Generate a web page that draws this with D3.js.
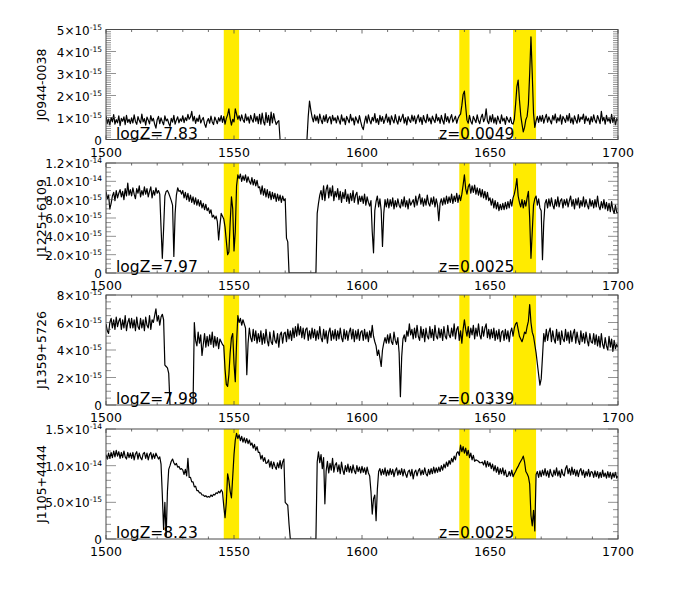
<!DOCTYPE html>
<html>
<head>
<meta charset="utf-8">
<script src="https://cdn.jsdelivr.net/npm/d3@7"></script>
<style>
  body { margin: 0; background: #fff; }
  svg { font-family: "DejaVu Sans", "Liberation Sans", Arial, sans-serif; }
</style>
</head>
<body>
<svg id="spectra" width="692" height="609"></svg>
<script>
// wavelength grid (angstrom) shared by all spectra
const waveStart = 1500;
const waveStep = 0.5;

const galaxyNames = ["J0944-0038", "J1225+6109", "J1359+5726", "J1105+4444"];
const logZLabels = ["7.83", "7.97", "7.98", "8.23"];
const redshiftLabels = ["0.0049", "0.0025", "0.0339", "0.0025"];

// highlighted lines: CIV, HeII, OIII]
const bandStarts = [1546, 1638, 1659];
const bandEnds = [1552, 1642, 1668];

const xTicks = [1500, 1550, 1600, 1650, 1700];

// flux in units of 1e-15 erg/s/cm2/A, one row = 10 A
const flux1 = [
  1.06,0.73,0.93,0.66,1.00,0.80,1.13,0.70,0.90,0.76,1.08,0.63,0.96,0.83,1.03,0.68,1.10,0.78,0.92,0.72,
  0.98,0.75,1.12,0.82,0.69,1.04,0.86,0.74,1.15,0.80,0.95,0.65,1.02,0.88,0.71,1.09,0.84,0.96,0.70,0.52,
  0.90,1.05,0.72,0.98,0.81,0.67,1.07,0.85,0.93,0.74,0.60,0.96,0.79,1.10,0.70,0.88,1.03,0.76,0.94,0.83,
  1.08,0.77,0.99,0.86,1.14,0.92,1.02,1.28,0.84,1.05,0.73,0.97,0.82,1.11,0.75,0.90,1.00,0.71,0.55,0.83,
  0.95,0.74,1.06,0.80,0.68,1.02,0.87,0.72,0.99,0.83,1.09,0.78,1.05,0.70,0.96,1.12,1.39,0.95,0.65,0.92,
  0.80,1.39,1.15,0.92,1.08,0.85,1.12,0.90,0.78,1.16,0.86,1.03,0.74,1.10,0.91,0.79,1.18,0.83,1.05,0.72,
  1.14,0.70,1.20,0.82,0.66,1.22,0.78,1.10,0.64,1.25,0.75,1.18,0.88,0.68,0.80,0.86,0,0,0,0,
  0,0,0,0,0,0,0,0,0,0,0,0,0,0,0,0,0,0,1.05,1.75,
  1.35,1.02,0.80,1.12,0.85,1.06,0.74,1.15,0.90,0.72,1.08,0.82,1.13,0.77,0.96,1.04,0.71,1.10,0.86,0.99,
  0.75,1.07,0.88,0.70,1.12,0.83,0.97,0.68,1.05,0.91,0.76,1.14,0.85,0.98,0.66,1.03,0.89,0.74,1.09,0.81,
  0.58,0.45,0.80,1.06,0.74,1.12,0.87,0.71,1.01,0.84,1.18,0.77,0.95,0.69,1.10,0.82,1.04,0.73,0.92,1.15,
  0.79,1.02,0.68,1.08,0.90,0.75,1.13,0.85,0.70,1.06,0.81,0.97,1.15,0.74,0.99,0.66,1.04,0.88,0.78,1.11,
  0.84,1.07,0.72,0.96,1.12,0.80,1.01,0.69,1.09,0.87,0.76,1.14,0.83,0.98,0.71,1.06,0.90,0.77,1.16,0.85,
  1.00,0.73,1.10,0.86,0.70,1.18,0.82,1.04,0.75,0.97,1.13,0.79,0.92,1.06,0.74,0.95,1.08,1.15,1.55,2.05,
  2.20,1.50,0.88,0.74,1.10,0.83,0.70,1.05,0.91,0.77,1.12,0.86,0.72,1.00,1.15,0.81,0.95,1.39,0.84,0.72,
  1.08,0.80,1.13,0.75,0.99,0.70,1.06,0.88,0.73,1.12,0.84,0.97,0.69,1.04,0.90,0.78,1.01,0.74,0.70,0.92,
  1.60,2.40,2.70,1.80,1.10,0.70,0.35,0.55,0.90,1.05,1.60,3.00,4.67,3.00,1.20,0.55,0.85,1.05,0.78,1.08,
  0.82,1.10,0.74,0.97,1.14,0.79,1.03,0.86,0.71,1.09,0.88,1.16,0.76,0.99,0.84,1.12,0.70,1.05,0.93,0.78,
  1.10,0.84,1.18,0.76,0.98,0.70,1.07,0.89,0.74,1.13,0.80,1.02,0.92,1.15,0.73,1.06,0.85,0.97,0.69,1.04,
  0.80,1.12,0.87,0.75,1.09,0.92,0.72,1.28,0.85,1.01,0.70,1.10,0.83,0.96,0.74,1.14,0.78,1.03,0.68,0.95,
  0.86
];

const flux2 = [
  8.9,8.1,8.5,7.0,7.6,8.4,8.8,7.9,9.0,8.2,8.7,9.1,8.3,8.9,8.0,9.2,8.4,9.8,8.5,9.1,
  8.4,9.3,8.6,8.1,9.2,8.7,9.5,8.3,9.0,8.5,9.4,8.6,9.2,8.3,8.9,9.4,8.2,9.0,8.5,9.3,
  8.7,9.0,8.6,5.0,1.6,4.8,8.4,8.9,9.0,8.7,8.3,7.9,7.4,1.8,6.5,8.5,9.3,8.9,9.0,8.6,
  9.0,8.2,8.8,8.0,8.7,7.8,8.5,7.7,8.3,7.5,8.2,7.4,8.0,7.3,7.9,7.1,7.6,6.9,7.5,6.8,
  7.1,6.5,6.9,6.1,6.3,5.9,6.2,5.6,3.6,5.2,6.5,6.2,5.9,5.0,3.5,2.0,2.3,5.5,8.3,7.0,
  2.4,4.5,9.5,10.7,10.3,10.8,10.0,10.6,10.1,10.7,9.9,10.5,10.0,9.7,10.4,9.6,10.2,9.5,10.1,9.3,
  9.4,8.6,9.5,8.5,9.2,8.3,9.1,8.2,8.9,8.0,8.8,8.1,8.7,7.8,8.6,7.9,8.5,7.7,8.4,7.9,
  8.1,3.8,3.4,0,0,0,0,0,0,0,0,0,0,0,0,0,0,0,0,0,
  0,0,0,0,0,6.5,7.6,8.5,9.0,8.0,9.5,7.9,9.1,9.6,8.2,9.3,8.4,9.5,7.9,8.9,
  8.3,9.2,8.0,8.9,7.7,8.8,8.1,9.1,7.8,8.6,7.6,8.7,7.9,9.0,7.7,8.5,8.8,7.5,8.4,7.8,
  8.4,7.6,8.6,7.4,8.3,7.7,7.3,7.9,4.5,2.2,6.8,7.8,8.4,7.2,8.1,6.8,2.9,6.5,8.0,7.2,
  8.1,7.1,8.0,7.3,8.2,7.0,7.9,7.2,8.1,7.4,7.1,8.0,7.3,8.3,7.2,7.9,7.0,8.1,7.4,7.7,
  8.0,7.2,8.4,7.4,8.1,8.6,7.5,8.2,7.3,8.1,7.4,8.5,7.6,7.3,8.2,7.5,8.3,7.2,8.1,7.4,
  5.7,7.6,8.1,7.4,8.2,7.5,8.4,7.6,8.3,7.7,8.6,7.6,8.4,7.8,8.7,7.7,8.5,7.9,8.6,9.6,
  10.7,9.2,8.6,9.4,9.7,8.7,9.5,8.8,9.6,8.6,9.3,8.5,9.2,8.3,9.1,8.2,8.9,8.0,8.8,7.9,
  8.2,7.4,8.1,7.1,7.9,7.0,7.7,6.8,7.5,6.9,7.6,6.9,7.7,7.0,7.8,7.1,8.0,7.3,8.2,8.6,
  9.3,10.3,8.4,7.7,7.2,8.0,7.1,7.9,7.3,8.2,8.9,6.0,1.6,4.5,7.4,8.1,8.4,7.4,8.1,7.1,
  6.8,1.45,5.5,7.6,8.0,7.1,8.1,7.3,8.2,7.4,7.0,8.0,7.3,8.3,7.2,7.9,8.1,7.1,8.0,7.4,
  8.1,7.2,7.9,8.4,7.3,8.0,7.0,8.1,7.4,8.2,7.1,7.9,7.3,8.3,7.2,8.0,7.4,7.0,8.1,7.3,
  7.9,7.1,8.0,7.2,8.4,7.3,6.9,7.8,7.1,8.0,7.0,7.7,6.8,7.6,6.7,7.8,6.9,6.5,7.4,6.6,
  6.6
];

const flux3 = [
  5.9,5.4,5.2,6.0,6.3,5.6,6.2,5.5,6.4,5.7,6.1,6.3,5.5,6.2,5.6,6.5,5.4,6.0,6.3,5.6,
  6.3,5.6,6.2,5.4,6.4,5.7,5.5,6.3,5.6,6.2,5.4,6.4,5.8,5.6,6.5,5.5,6.2,6.0,6.5,7.0,
  6.1,6.5,5.8,6.4,6.6,6.2,2.9,2.8,2.7,2.3,0,0,0,0,0,0,0,0,0,0,
  0,0,0,0,0,0,0,0,0,6.0,4.7,4.3,5.3,4.5,5.1,3.6,4.4,5.2,4.2,5.0,
  4.3,5.1,4.4,5.3,4.2,5.0,4.3,4.9,4.1,4.8,4.6,4.4,4.3,2.6,1.5,1.35,2.2,3.8,4.9,5.2,
  3.0,1.7,4.5,6.5,6.0,6.3,5.8,6.2,5.9,5.6,2.2,4.5,5.6,4.9,4.6,5.5,4.7,5.4,4.5,5.2,
  4.6,5.4,4.4,5.2,4.5,5.5,4.7,4.3,5.3,4.6,4.4,5.4,4.7,4.5,5.2,4.2,5.1,5.3,4.5,5.2,
  5.3,4.6,5.5,4.8,5.4,4.7,5.6,4.9,5.7,5.0,5.9,5.1,5.7,4.9,5.6,4.8,5.5,5.6,4.7,5.4,
  4.8,5.6,4.9,5.5,4.7,5.4,4.8,5.7,4.9,4.6,5.5,4.8,5.4,4.5,5.3,5.6,4.7,5.4,4.8,5.5,
  4.7,5.4,4.8,5.6,4.9,4.6,5.5,4.8,5.4,4.7,5.3,5.6,4.8,5.5,4.6,5.4,4.8,5.5,4.7,5.3,
  5.4,4.7,5.5,4.8,5.3,4.6,5.4,4.9,5.8,5.0,4.6,4.3,3.6,4.0,3.4,2.8,4.0,4.5,4.9,4.5,
  5.1,4.5,5.2,4.6,4.4,5.3,4.7,4.4,4.9,3.8,0.6,3.5,4.8,5.1,4.6,5.4,5.0,5.9,5.1,5.5,
  4.8,5.6,4.9,5.8,5.0,4.7,5.7,4.9,5.5,4.6,5.6,5.0,4.8,5.7,4.9,5.5,4.7,5.8,5.0,4.8,
  5.6,4.9,5.5,4.7,5.7,5.0,4.8,5.8,5.1,4.9,5.6,5.0,5.9,4.8,5.5,5.7,4.7,5.4,4.5,5.5,
  6.2,5.5,5.0,5.7,4.9,5.6,5.1,5.8,4.8,5.6,5.0,5.9,5.1,4.8,5.7,5.0,5.6,5.9,4.9,5.5,
  4.8,5.5,4.9,5.6,4.7,5.4,4.8,5.5,4.6,5.3,5.4,4.7,5.5,4.8,5.4,4.6,5.3,5.6,5.0,5.6,
  5.9,6.0,5.5,5.0,4.8,4.6,4.9,5.3,5.2,5.7,6.1,7.3,6.0,5.3,5.0,4.4,3.8,3.0,2.2,1.45,
  1.9,3.5,5.2,4.6,5.5,4.7,5.3,5.6,4.6,5.4,4.8,4.5,5.5,4.7,5.3,4.4,5.4,4.8,4.6,5.5,
  4.7,5.3,4.5,5.4,4.6,5.2,5.5,4.5,5.3,4.7,4.4,5.4,4.6,5.2,4.5,5.3,4.7,4.3,5.2,4.6,
  4.5,5.2,4.4,5.1,4.3,5.0,4.2,5.2,4.4,4.1,4.9,4.3,4.0,5.0,4.2,4.8,3.9,4.7,4.1,4.4,
  4.2
];

const flux4 = [
  11.5,10.9,11.7,11.0,11.8,11.1,12.0,11.2,12.1,11.3,11.9,11.0,11.8,11.1,12.0,11.2,10.9,11.8,11.1,11.7,
  11.0,11.8,10.8,11.6,11.9,10.9,11.7,11.1,10.8,11.6,11.8,11.0,11.7,10.8,11.5,11.8,10.9,11.6,11.0,11.7,
  11.3,10.9,11.2,10.2,6.0,1.3,5.0,0.3,6.5,9.5,10.0,10.6,10.9,10.4,10.1,10.3,9.8,9.9,9.5,9.6,
  9.4,8.8,9.5,8.6,11.0,8.4,8.4,7.8,7.8,7.1,7.2,6.6,6.6,6.3,6.3,6.0,6.0,5.8,5.9,5.7,
  5.8,5.7,6.0,5.8,6.1,6.0,6.3,6.2,6.5,6.3,6.7,6.4,4.5,2.9,5.0,8.9,8.0,6.5,5.6,8.5,
  11.5,13.5,14.4,13.7,14.2,13.4,14.0,13.2,13.8,13.1,13.7,13.0,13.5,12.8,13.1,12.4,12.9,12.1,12.6,11.8,
  11.8,10.9,11.4,10.6,11.1,10.3,10.4,10.8,9.8,10.6,9.6,10.5,9.9,9.5,10.4,9.7,10.7,9.6,10.5,10.9,
  5.0,4.8,4.6,2.0,0,0,0,0,0,0,0,0,0,0,0,0,0,0,0,0,
  0,0,0,0,0,10.5,11.9,10.4,11.5,9.6,11.1,4.8,9.3,10.6,9.0,10.3,9.4,11.0,9.1,10.1,
  10.4,9.2,10.1,8.9,10.5,9.4,8.8,10.0,9.2,10.2,9.1,9.9,9.0,10.1,9.3,8.9,10.0,9.2,9.8,9.0,
  9.9,9.1,9.7,8.8,9.8,9.0,8.6,6.5,3.4,5.5,6.0,2.5,6.8,9.2,9.6,8.7,9.5,8.8,9.7,8.6,
  9.4,8.7,9.6,8.8,9.5,8.5,9.3,9.7,8.7,9.4,8.8,9.6,8.6,9.5,8.9,8.4,9.2,9.4,8.6,9.5,
  8.2,9.1,9.4,8.6,9.3,9.6,8.7,9.4,8.8,9.7,8.9,8.6,9.5,8.8,9.6,8.9,9.8,9.0,9.7,9.1,
  9.8,9.2,10.0,9.4,10.2,9.7,10.5,9.9,10.7,10.2,11.0,10.5,11.3,10.8,11.7,11.9,11.4,12.8,11.9,12.6,
  11.7,12.4,11.4,12.1,11.1,11.7,10.8,11.4,10.6,10.8,10.7,10.6,10.4,10.4,10.5,10.1,10.7,9.8,10.6,9.9,
  10.4,9.6,10.2,9.3,10.0,9.1,9.8,8.8,9.6,8.9,9.7,8.7,9.4,8.5,8.6,9.2,8.6,9.4,8.5,8.9,
  9.2,9.6,9.9,10.3,10.6,10.9,11.3,10.5,9.2,8.9,8.5,7.5,3.2,1.8,3.9,1.1,8.8,9.2,8.4,9.3,
  8.5,9.4,8.7,9.6,8.6,9.3,8.4,9.5,8.8,8.5,9.4,8.7,9.7,8.6,9.3,8.4,9.5,8.8,8.6,9.6,
  10.0,8.9,9.6,8.7,9.8,8.8,9.5,8.6,9.4,8.5,9.3,9.6,8.7,9.4,8.4,9.2,8.6,9.5,8.5,9.2,
  9.1,8.4,9.3,8.5,9.2,8.3,9.1,8.4,9.4,8.5,9.0,8.3,9.2,8.4,9.1,8.2,9.0,8.4,9.1,8.3,
  8.6
];

// y axis per panel (units of 1e-15)
const yMaxes = [5, 12, 8, 15];
const yMajorSteps = [1, 2, 2, 5];
const yMinorSteps = [0.1, 0.5, 0.5, 1];
const yTickLabels = [
  [["0"], ["1×10", "-15"], ["2×10", "-15"], ["3×10", "-15"], ["4×10", "-15"], ["5×10", "-15"]],
  [["0"], ["2.0×10", "-15"], ["4.0×10", "-15"], ["6.0×10", "-15"], ["8.0×10", "-15"], ["1.0×10", "-14"], ["1.2×10", "-14"]],
  [["0"], ["2×10", "-15"], ["4×10", "-15"], ["6×10", "-15"], ["8×10", "-15"]],
  [["0"], ["5.0×10", "-15"], ["1.0×10", "-14"], ["1.5×10", "-14"]]
];

const allFlux = [flux1, flux2, flux3, flux4];

// layout
const plotLeft = 106;
const plotWidth = 512;
const plotHeight = 110;
const panelTops = [29.5, 163, 295, 429];
const axisColor = "#4a4a4a";

const svg = d3.select("#spectra");

const x = d3.scaleLinear().domain([1500, 1700]).range([0, plotWidth]);

svg.append("defs").append("clipPath")
  .attr("id", "plotClip")
  .append("rect")
  .attr("x", 0).attr("y", 0)
  .attr("width", plotWidth).attr("height", plotHeight);

allFlux.forEach(function(flux, p) {
  const g = svg.append("g")
    .attr("transform", `translate(${plotLeft},${panelTops[p]})`);

  const y = d3.scaleLinear().domain([0, yMaxes[p]]).range([plotHeight, 0]);

  // yellow bands
  g.selectAll(".band")
    .data(bandStarts)
    .join("rect")
    .attr("class", "band")
    .attr("x", d => x(d))
    .attr("y", 0)
    .attr("width", (d, i) => x(bandEnds[i]) - x(d))
    .attr("height", plotHeight)
    .attr("fill", "#ffeb00");

  // spectrum
  const line = d3.line()
    .x((d, i) => x(waveStart + i * waveStep))
    .y(d => y(d));

  g.append("path")
    .datum(flux)
    .attr("clip-path", "url(#plotClip)")
    .attr("fill", "none")
    .attr("stroke", "#000")
    .attr("stroke-width", 1.2)
    .attr("stroke-linejoin", "round")
    .attr("d", line);

  // x ticks, inward on bottom and top
  const xMinor = d3.range(1500, 1701, 10);
  [plotHeight, 0].forEach(function(base, side) {
    const dir = side === 0 ? -1 : 1;
    g.selectAll(null)
      .data(xMinor)
      .join("line")
      .attr("x1", d => x(d)).attr("x2", d => x(d))
      .attr("y1", base)
      .attr("y2", d => base + dir * (xTicks.includes(d) ? 4 : 2.5))
      .attr("stroke", axisColor)
      .attr("stroke-width", 0.8);
  });

  // y ticks, inward on left and right
  const yMinor = d3.range(0, yMaxes[p] + yMinorSteps[p] / 2, yMinorSteps[p]);
  [0, plotWidth].forEach(function(base, side) {
    const dir = side === 0 ? 1 : -1;
    g.selectAll(null)
      .data(yMinor)
      .join("line")
      .attr("y1", d => y(d)).attr("y2", d => y(d))
      .attr("x1", base)
      .attr("x2", function(d) {
        const r = d / yMajorSteps[p];
        return base + dir * (Math.abs(r - Math.round(r)) < 1e-6 ? 10 : 5);
      })
      .attr("stroke", axisColor)
      .attr("stroke-width", 0.6);
  });

  // frame
  g.append("rect")
    .attr("width", plotWidth)
    .attr("height", plotHeight)
    .attr("fill", "none")
    .attr("stroke", axisColor)
    .attr("stroke-width", 1);

  // x tick labels
  g.selectAll(".xlab")
    .data(xTicks)
    .join("text")
    .attr("class", "xlab")
    .attr("x", d => x(d))
    .attr("y", plotHeight + 17)
    .attr("text-anchor", "middle")
    .style("font-size", "12.5px")
    .text(d => d);

  // y tick labels with exponents
  const yLab = g.selectAll(".ylab")
    .data(yTickLabels[p])
    .join("text")
    .attr("class", "ylab")
    .attr("x", -4)
    .attr("y", (d, i) => y(i * yMajorSteps[p]) + 5)
    .attr("text-anchor", "end")
    .style("font-size", "12px");

  yLab.append("tspan").text(d => d[0]);
  yLab.filter(d => d.length > 1)
    .append("tspan")
    .attr("dy", -5)
    .style("font-size", "7.5px")
    .text(d => d[1]);

  // galaxy name
  g.append("text")
    .attr("transform", `translate(-60,${plotHeight / 2}) rotate(-90)`)
    .attr("text-anchor", "middle")
    .style("font-size", "12.5px")
    .text(galaxyNames[p]);

  // annotations
  g.append("text")
    .attr("x", 10)
    .attr("y", plotHeight - 1)
    .style("font-size", "15.5px")
    .text(`logZ=${logZLabels[p]}`);

  g.append("text")
    .attr("x", 333)
    .attr("y", plotHeight - 1)
    .style("font-size", "15.5px")
    .text(`z=${redshiftLabels[p]}`);
});
</script>
</body>
</html>
